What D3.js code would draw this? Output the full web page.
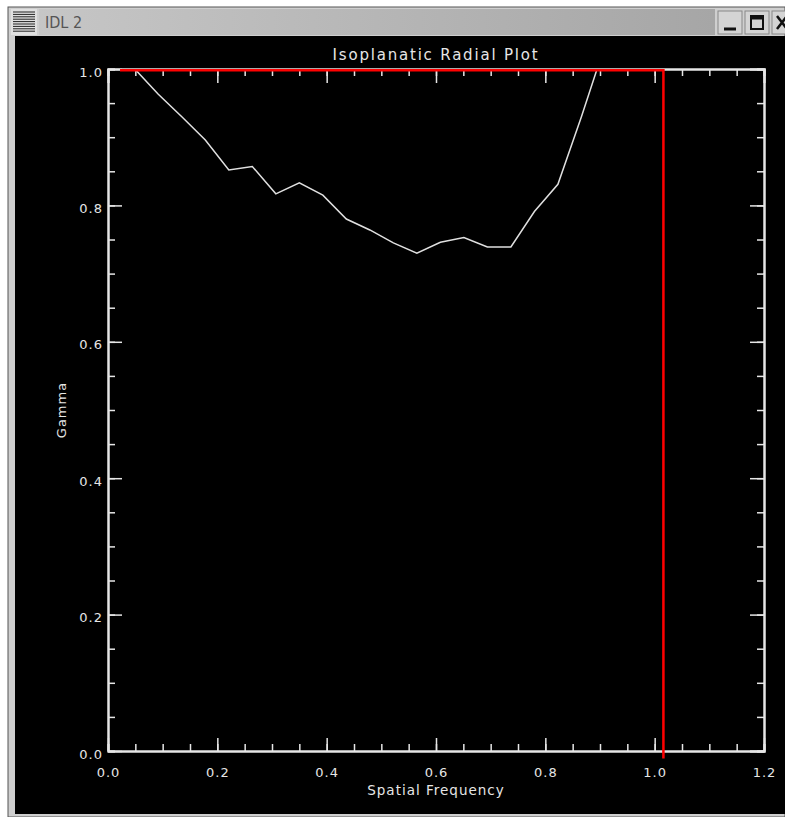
<!DOCTYPE html>
<html>
<head>
<meta charset="utf-8">
<script src="https://cdn.jsdelivr.net/npm/d3@7"></script>
<style>
  body { margin: 0; background: #fff; }
  text { font-family: "DejaVu Sans", sans-serif; fill: #e6e6e6; }
</style>
</head>
<body>
<div id="chart"></div>
<script>
var svgWidth = 785;
var svgHeight = 817;

// radial gamma curve
var freq = [0.049, 0.092, 0.135, 0.178, 0.221, 0.264, 0.307, 0.350, 0.393, 0.436, 0.479,
            0.522, 0.565, 0.608, 0.651, 0.694, 0.737, 0.780, 0.823, 0.866, 0.909];
var gamma = [1.000, 0.963, 0.930, 0.896, 0.852, 0.857, 0.817, 0.833, 0.815, 0.780, 0.764,
             0.745, 0.730, 0.746, 0.753, 0.739, 0.739, 0.791, 0.831, 0.930, 1.035];

// red limit line
var limitX = [0.022, 1.016, 1.016];
var limitY = [0.998, 0.998, -0.011];

var xTicks = [0.0, 0.2, 0.4, 0.6, 0.8, 1.0, 1.2];
var yTicks = [0.0, 0.2, 0.4, 0.6, 0.8, 1.0];
var xMinor = d3.range(0, 1.2001, 0.05);
var yMinor = d3.range(0, 1.0001, 0.05);

var margin = { top: 69, right: 21, bottom: 66, left: 108 };
var chartWidth = svgWidth - margin.left - margin.right;
var chartHeight = svgHeight - margin.top - margin.bottom;

var svg = d3.select("#chart")
    .append("svg")
    .attr("width", svgWidth)
    .attr("height", svgHeight);

// --- window frame ---
svg.append("rect").attr("width", svgWidth).attr("height", svgHeight).attr("fill", "#fff");
svg.append("rect").attr("x", 8).attr("y", 7).attr("width", 777).attr("height", 810)
    .attr("fill", "#cfcfcf").attr("stroke", "#555").attr("stroke-width", 1);

var grad = svg.append("defs").append("linearGradient").attr("id", "bar");
grad.append("stop").attr("offset", "0%").attr("stop-color", "#c6c6c6");
grad.append("stop").attr("offset", "100%").attr("stop-color", "#a6a6a6");
svg.append("rect").attr("x", 39).attr("y", 9).attr("width", 676).attr("height", 26)
    .attr("fill", "url(#bar)");

// menu icon
svg.append("rect").attr("x", 11).attr("y", 9).attr("width", 26).attr("height", 26).attr("fill", "#e0e0e0");
d3.range(0, 9).forEach(function(i) {
    svg.append("line").attr("x1", 13).attr("x2", 35)
        .attr("y1", 12 + i * 2.4).attr("y2", 12 + i * 2.4)
        .attr("stroke", "#222").attr("stroke-width", 1);
});
svg.append("text").attr("x", 45).attr("y", 28).text("IDL 2")
    .style("fill", "#555").style("font-size", "16px").style("font-family", "Liberation Sans Narrow, DejaVu Sans Condensed, sans-serif");

// buttons
[718, 745, 772].forEach(function(bx) {
    svg.append("rect").attr("x", bx).attr("y", 11).attr("width", 24).attr("height", 23)
        .attr("fill", "#d4d4d4").attr("stroke", "#888");
});
svg.append("line").attr("x1", 724).attr("x2", 736).attr("y1", 29).attr("y2", 29).attr("stroke", "#111").attr("stroke-width", 3);
svg.append("rect").attr("x", 751).attr("y", 16).attr("width", 12).attr("height", 13)
    .attr("fill", "none").attr("stroke", "#111").attr("stroke-width", 2);
svg.append("line").attr("x1", 751).attr("x2", 763).attr("y1", 18).attr("y2", 18).attr("stroke", "#111").attr("stroke-width", 3);
svg.append("path").attr("d", "M777,16 L787,29 M787,16 L777,29").attr("stroke", "#111").attr("stroke-width", 2.5);

// plot canvas
svg.append("rect").attr("x", 15).attr("y", 36).attr("width", 770).attr("height", 778).attr("fill", "#000");

// --- chart ---
var x = d3.scaleLinear().domain([0, 1.2]).range([margin.left, margin.left + chartWidth]);
var y = d3.scaleLinear().domain([0, 1]).range([margin.top + chartHeight, margin.top]);

svg.append("clipPath").attr("id", "plotClip")
    .append("rect")
    .attr("x", x(0)).attr("y", y(1))
    .attr("width", x(1.2) - x(0)).attr("height", y(0) - y(1));

function styleAxis(g) {
    g.select(".domain").attr("stroke", "#e6e6e6").attr("stroke-width", 2);
    g.selectAll(".tick line").attr("stroke", "#e6e6e6").attr("stroke-width", 1.5);
    g.selectAll("text").style("font-size", "13px").style("letter-spacing", "1px").attr("fill", "#e6e6e6");
}

// bottom axis
svg.append("g").attr("transform", `translate(0, ${y(0)})`)
    .call(d3.axisBottom(x).tickValues(xMinor).tickSize(-7).tickFormat(""))
    .call(styleAxis);
svg.append("g").attr("transform", `translate(0, ${y(0)})`)
    .call(d3.axisBottom(x).tickValues(xTicks).tickSizeInner(-13).tickSizeOuter(0)
        .tickPadding(17).tickFormat(d3.format(".1f")))
    .call(styleAxis);

// top axis
svg.append("g").attr("transform", `translate(0, ${y(1)})`)
    .call(d3.axisTop(x).tickValues(xMinor).tickSize(-7).tickFormat(""))
    .call(styleAxis);
svg.append("g").attr("transform", `translate(0, ${y(1)})`)
    .call(d3.axisTop(x).tickValues(xTicks).tickSize(-14).tickFormat(""))
    .call(styleAxis);

// left axis
svg.append("g").attr("transform", `translate(${x(0)}, 0)`)
    .call(d3.axisLeft(y).tickValues(yMinor).tickSize(-7).tickFormat(""))
    .call(styleAxis);
svg.append("g").attr("transform", `translate(${x(0)}, 0)`)
    .call(d3.axisLeft(y).tickValues(yTicks).tickSizeInner(-14).tickSizeOuter(0)
        .tickPadding(5).tickFormat(d3.format(".1f")))
    .call(styleAxis)
    .selectAll("text").attr("dy", "0.55em");

// right axis
svg.append("g").attr("transform", `translate(${x(1.2)}, 0)`)
    .call(d3.axisRight(y).tickValues(yMinor).tickSize(-7).tickFormat(""))
    .call(styleAxis);
svg.append("g").attr("transform", `translate(${x(1.2)}, 0)`)
    .call(d3.axisRight(y).tickValues(yTicks).tickSize(-14).tickFormat(""))
    .call(styleAxis);

// curve
var curveData = freq.map((f, i) => [f, gamma[i]]);
svg.append("path")
    .datum(curveData)
    .attr("clip-path", "url(#plotClip)")
    .attr("fill", "none")
    .attr("stroke", "#e0e0e0")
    .attr("stroke-width", 1.5)
    .attr("d", d3.line().x(d => x(d[0])).y(d => y(d[1])));

// red limit
var limitData = limitX.map((f, i) => [f, limitY[i]]);
svg.append("path")
    .datum(limitData)
    .attr("fill", "none")
    .attr("stroke", "#ff0000")
    .attr("stroke-width", 2.5)
    .attr("d", d3.line().x(d => x(d[0])).y(d => y(d[1])));

// titles
svg.append("text")
    .attr("x", (x(0) + x(1.2)) / 2).attr("y", 60)
    .attr("text-anchor", "middle")
    .style("font-size", "15px")
    .style("letter-spacing", "1.8px")
    .text("Isoplanatic Radial Plot");

svg.append("text")
    .attr("x", (x(0) + x(1.2)) / 2).attr("y", 795)
    .attr("text-anchor", "middle")
    .style("font-size", "13.5px")
    .style("letter-spacing", "1px")
    .text("Spatial Frequency");

svg.append("text")
    .attr("transform", `translate(66, ${(y(0) + y(1)) / 2}) rotate(-90)`)
    .attr("text-anchor", "middle")
    .style("font-size", "13px")
    .style("letter-spacing", "1px")
    .text("Gamma");
</script>
</body>
</html>
